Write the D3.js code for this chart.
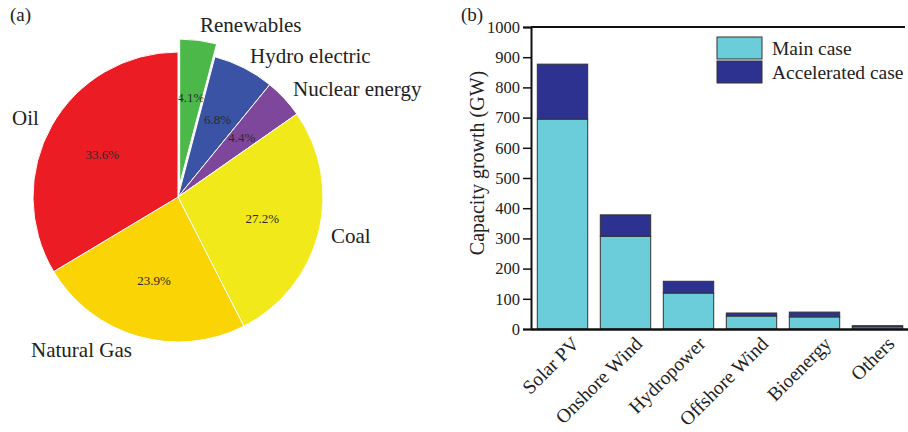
<!DOCTYPE html>
<html>
<head>
<meta charset="utf-8">
<script src="https://cdn.jsdelivr.net/npm/d3@7"></script>
<style>
  body { margin: 0; background: #fff; }
  svg { display: block; font-family: "Liberation Serif", "Times New Roman", serif; }
</style>
</head>
<body>
<div id="chart"></div>
<script>
// ---- datos del pastel (a) ----
var fuentes = ['Renewables', 'Hydro electric', 'Nuclear energy', 'Coal', 'Natural Gas', 'Oil'];
var porcentajes = [4.1, 6.8, 4.4, 27.2, 23.9, 33.6];
var coloresPie = ['#4cb849', '#3a53a4', '#7f479c', '#f1e91a', '#fad405', '#ec1c24'];

// ---- datos de barras (b) ----
var tecnologias = ['Solar PV', 'Onshore Wind', 'Hydropower', 'Offshore Wind', 'Bioenergy', 'Others'];
var casoPrincipal = [695, 307, 119, 43, 40, 7];
var casoAcelerado = [182, 71, 39, 10, 16, 4];   // adicional sobre el caso principal
var ticksY = [0, 100, 200, 300, 400, 500, 600, 700, 800, 900, 1000];
var series = ['Main case', 'Accelerated case'];
var coloresBarra = ['#6bcdda', '#2d318f'];

var W = 908, H = 432;
var svg = d3.select('#chart').append('svg').attr('width', W).attr('height', H);

// ================= (a) PASTEL =================
var cx = 178, cy = 197, radio = 145, explota = 13;
var pie = d3.pie().sort(null).value(function (d) { return d; });
var arcos = pie(porcentajes);
var arc = d3.arc().innerRadius(0).outerRadius(radio);
var arcTexto = d3.arc().innerRadius(radio * 0.6).outerRadius(radio * 0.6);

var gPie = svg.append('g').attr('transform', 'translate(' + cx + ',' + cy + ')');

function desplazamiento(d, i) {
    if (i !== 0) return [0, 0];           // solo Renewables sale del pastel
    var a = (d.startAngle + d.endAngle) / 2;
    return [Math.sin(a) * explota, -Math.cos(a) * explota];
}

var rebanadas = gPie.selectAll('g.slice').data(arcos).enter().append('g')
    .attr('class', 'slice')
    .attr('transform', function (d, i) {
        var o = desplazamiento(d, i);
        return 'translate(' + o[0] + ',' + o[1] + ')';
    });

rebanadas.append('path')
    .attr('d', arc)
    .attr('fill', function (d, i) { return coloresPie[i]; })
    .attr('stroke', '#fff')
    .attr('stroke-width', 1);

rebanadas.append('text')
    .attr('transform', function (d) { return 'translate(' + arcTexto.centroid(d) + ')'; })
    .attr('text-anchor', 'middle')
    .attr('dy', '0.35em')
    .attr('font-size', 13)
    .attr('fill', '#2b2b2b')
    .text(function (d, i) { return porcentajes[i].toFixed(1) + '%'; });

// nombres fuera del pastel (posicion a mano, como en la figura)
var posNombres = {
    'Renewables': [200, 32],
    'Hydro electric': [250, 63],
    'Nuclear energy': [293, 96],
    'Coal': [331, 243],
    'Natural Gas': [31, 357],
    'Oil': [12, 125]
};
svg.selectAll('text.nombre').data(fuentes).enter().append('text')
    .attr('class', 'nombre')
    .attr('x', function (d) { return posNombres[d][0]; })
    .attr('y', function (d) { return posNombres[d][1]; })
    .attr('font-size', 21)
    .attr('fill', '#222')
    .text(function (d) { return d; });

svg.append('text').attr('x', 10).attr('y', 21).attr('font-size', 19).attr('fill', '#222').text('(a)');

// ================= (b) BARRAS =================
var izq = 531, der = 909, arriba = 27, abajo = 329;

var x = d3.scaleBand().domain(tecnologias).range([izq, der]).paddingInner(0.2).paddingOuter(0.1);
var y = d3.scaleLinear().domain([0, 1000]).range([abajo, arriba]);

var datosApilados = tecnologias.map(function (t, i) {
    return { tec: t, main: casoPrincipal[i], acc: casoAcelerado[i] };
});
var pila = d3.stack().keys(['main', 'acc'])(datosApilados);

var gBar = svg.append('g');
pila.forEach(function (capa, k) {
    gBar.selectAll('rect.s' + k).data(capa).enter().append('rect')
        .attr('class', 's' + k)
        .attr('x', function (d) { return x(d.data.tec); })
        .attr('width', x.bandwidth())
        .attr('y', function (d) { return y(d[1]); })
        .attr('height', function (d) { return y(d[0]) - y(d[1]); })
        .attr('fill', coloresBarra[k])
        .attr('stroke', '#333')
        .attr('stroke-width', 1);
});

// eje Y
var ejeY = svg.append('g').attr('transform', 'translate(' + izq + ',0)')
    .call(d3.axisLeft(y).tickValues(ticksY).tickFormat(d3.format('d')).tickSize(8).tickPadding(3));
ejeY.select('.domain').attr('stroke', '#111').attr('stroke-width', 2);
ejeY.selectAll('.tick line').attr('stroke', '#111').attr('stroke-width', 1.5);
ejeY.selectAll('.tick text').attr('font-size', 16.5).attr('font-family', 'Liberation Serif').attr('fill', '#222');

// eje X
var ejeX = svg.append('g').attr('transform', 'translate(0,' + abajo + ')')
    .call(d3.axisBottom(x).tickSize(0).tickPadding(0).tickSizeOuter(0));
ejeX.select('.domain').attr('stroke', '#111').attr('stroke-width', 2.5);
ejeX.selectAll('.tick text')
    .attr('font-size', 19.5)
    .attr('font-family', 'Liberation Serif')
    .attr('fill', '#222')
    .attr('text-anchor', 'end')
    .attr('dy', 0)
    .attr('transform', 'translate(18,16) rotate(-45)');

// linea superior
svg.append('line').attr('x1', izq).attr('x2', W - 3).attr('y1', arriba).attr('y2', arriba)
    .attr('stroke', '#111').attr('stroke-width', 2);

// titulo eje Y
svg.append('text')
    .attr('transform', 'translate(484,163) rotate(-90)')
    .attr('text-anchor', 'middle')
    .attr('font-size', 20)
    .attr('fill', '#222')
    .text('Capacity growth (GW)');

svg.append('text').attr('x', 461).attr('y', 21).attr('font-size', 19).attr('fill', '#222').text('(b)');

// leyenda
var leyenda = svg.append('g').attr('transform', 'translate(717,37)');
series.forEach(function (s, i) {
    leyenda.append('rect').attr('x', 0).attr('y', i * 24).attr('width', 45).attr('height', 22)
        .attr('fill', coloresBarra[i]).attr('stroke', '#333').attr('stroke-width', 1);
    leyenda.append('text').attr('x', 55).attr('y', i * 24 + 18).attr('font-size', 19.5)
        .attr('fill', '#222').text(s);
});
</script>
</body>
</html>
